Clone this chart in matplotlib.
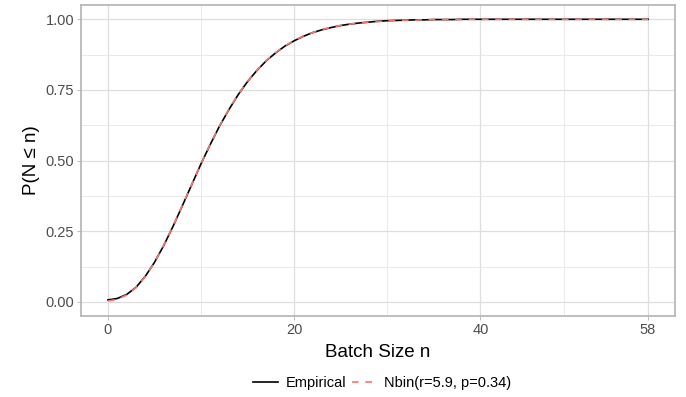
import numpy as np
import matplotlib
matplotlib.use('Agg')
import matplotlib.pyplot as plt
from matplotlib.ticker import FixedLocator

plt.rcParams['font.family'] = ['Liberation Sans', 'DejaVu Sans']

# batch sizes and cumulative probabilities
batch_n = list(range(0, 59))
empirical = [0.007, 0.012, 0.026, 0.051, 0.090, 0.140, 0.200, 0.268, 0.341, 0.415,
             0.489, 0.558, 0.623, 0.681, 0.734, 0.780, 0.819, 0.853, 0.881, 0.905,
             0.924, 0.940, 0.953, 0.963, 0.971, 0.978, 0.983, 0.987, 0.990, 0.993,
             0.995, 0.996, 0.997, 0.998, 0.998, 0.999, 0.999, 0.999, 1.000, 1.000,
             1.000, 1.000, 1.000, 1.000, 1.000, 1.000, 1.000, 1.000, 1.000, 1.000,
             1.000, 1.000, 1.000, 1.000, 1.000, 1.000, 1.000, 1.000, 1.000]
nbin_fit = [0.003, 0.009, 0.024, 0.050, 0.089, 0.140, 0.201, 0.269, 0.342, 0.416,
            0.489, 0.559, 0.624, 0.682, 0.735, 0.781, 0.820, 0.854, 0.882, 0.906,
            0.925, 0.941, 0.953, 0.964, 0.972, 0.978, 0.983, 0.987, 0.990, 0.992,
            0.994, 0.996, 0.997, 0.997, 0.998, 0.999, 0.999, 0.999, 0.999, 1.000,
            1.000, 1.000, 1.000, 1.000, 1.000, 1.000, 1.000, 1.000, 1.000, 1.000,
            1.000, 1.000, 1.000, 1.000, 1.000, 1.000, 1.000, 1.000, 1.000]

x_ticks = [0, 20, 40, 58]
x_minor = [10, 30, 49]
y_ticks = [0.0, 0.25, 0.5, 0.75, 1.0]
y_minor = [0.125, 0.375, 0.625, 0.875]

fig = plt.figure(figsize=(6.86, 3.97), dpi=100)
ax = fig.add_axes([0.118, 0.204, 0.866, 0.783])

ax.plot(batch_n, empirical, color='black', lw=1.2, label='Empirical', zorder=3)
ax.plot(batch_n, nbin_fit, color='#F8766D', lw=1.2, ls=(0, (4, 4)),
        label='Nbin(r=5.9, p=0.34)', zorder=4)

ax.set_xlim(-2.9, 60.9)
ax.set_ylim(-0.05, 1.05)
ax.set_xticks(x_ticks)
ax.set_xticklabels([str(t) for t in x_ticks])
ax.set_yticks(y_ticks)
ax.set_yticklabels(['0.00', '0.25', '0.50', '0.75', '1.00'])
ax.xaxis.set_minor_locator(FixedLocator(x_minor))
ax.yaxis.set_minor_locator(FixedLocator(y_minor))

ax.grid(True, which='major', color='#dedede', lw=0.9)
ax.grid(True, which='minor', color='#e6e6e6', lw=0.6)
ax.set_axisbelow(True)
for s in ax.spines.values():
    s.set_color('#b3b3b3')
    s.set_linewidth(1.2)
ax.tick_params(which='major', length=3, width=0.6, color='#b3b3b3',
               labelcolor='#4d4d4d', labelsize=10.5, pad=2)
ax.tick_params(which='minor', length=0)

ax.set_xlabel('Batch Size n', fontsize=13.5, labelpad=5)
ax.set_ylabel('P(N \u2264 n)', fontsize=13.5, labelpad=4)

fig.legend(loc='lower center', bbox_to_anchor=(0.557, -0.015), ncol=2,
           frameon=False, fontsize=10.5, handlelength=1.7, handletextpad=0.5,
           columnspacing=0.4)

fig.savefig('out.png', dpi=100)
